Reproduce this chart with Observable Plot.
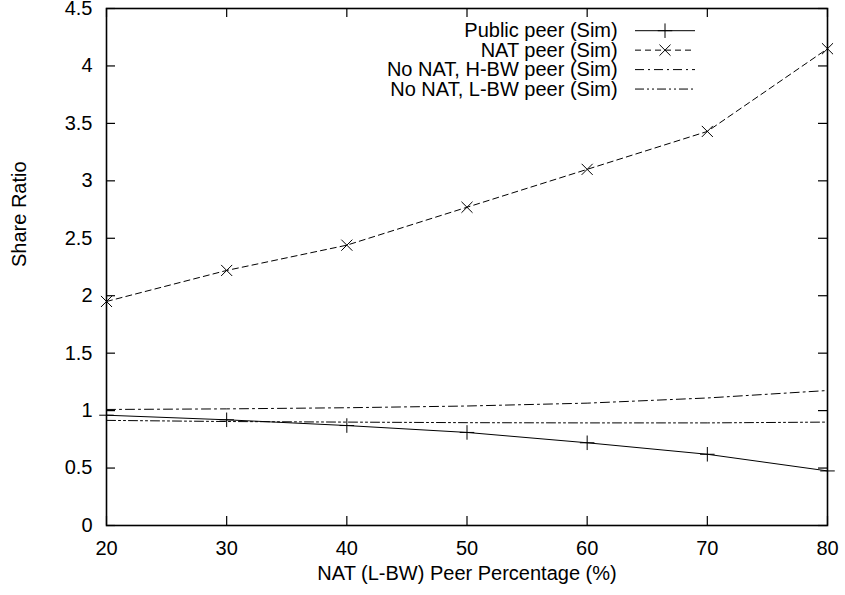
<!DOCTYPE html>
<html><head><meta charset="utf-8">
<script src="https://cdn.jsdelivr.net/npm/d3@7"></script>
<script src="https://cdn.jsdelivr.net/npm/@observablehq/plot@0.6"></script>
<style>
body{margin:0;background:#fff;}
#wrap{position:relative;width:845px;height:595px;font-family:"Liberation Sans",Arial,Helvetica,sans-serif;}
#wrap svg{position:absolute;left:0;top:0;overflow:visible;}
</style></head><body><div id="wrap"></div>
<script>
const xValues = [20, 30, 40, 50, 60, 70, 80];
const publicPeer = [0.96, 0.92, 0.87, 0.81, 0.72, 0.62, 0.475];
const natPeer = [1.95, 2.22, 2.44, 2.77, 3.10, 3.43, 4.15];
const noNatHBW = [1.01, 1.015, 1.025, 1.04, 1.065, 1.11, 1.175];
const noNatLBW = [0.915, 0.905, 0.90, 0.895, 0.893, 0.893, 0.90];
const seriesNames = ["Public peer (Sim)", "NAT peer (Sim)", "No NAT, H-BW peer (Sim)", "No NAT, L-BW peer (Sim)"];
const xTicks = [20, 30, 40, 50, 60, 70, 80];
const yTicks = [0, 0.5, 1, 1.5, 2, 2.5, 3, 3.5, 4, 4.5];
const xLabel = "NAT (L-BW) Peer Percentage (%)";
const yLabel = "Share Ratio";

const W = 845, H = 595;
const mL = 106, mR = 18, mT = 8, mB = 70;
const innerW = W - mL - mR, innerH = H - mT - mB;
const tickLen = 9;
const FS = 20;

const seriesValues = [publicPeer, natPeer, noNatHBW, noNatLBW];
const styles = [
  {dash: null, symbol: "plus", r: 4.75},
  {dash: "6,4", symbol: "times", r: 5.1},
  {dash: "9,4,2,4", symbol: null},
  {dash: "9,3,2,3,2,3", symbol: null}
];
const series = seriesValues.map((vals, s) => xValues.map((x, i) => ({x, y: vals[i], s})));

const marks = [];
series.forEach((data, s) => {
  marks.push(Plot.line(data, {x: "x", y: "y", stroke: "black", strokeWidth: 1, strokeDasharray: styles[s].dash}));
  if (styles[s].symbol) marks.push(Plot.dot(data, {x: "x", y: "y", symbol: styles[s].symbol, r: styles[s].r, stroke: "black", strokeWidth: 1, fill: "none"}));
});

const chart = Plot.plot({
  width: W, height: H,
  marginLeft: mL, marginRight: mR, marginTop: mT, marginBottom: mB,
  style: {fontFamily: '"Liberation Sans", Arial, Helvetica, sans-serif', fontSize: FS + "px", color: "black", background: "white"},
  x: {domain: [20, 80]},
  y: {domain: [0, 4.5]},
  marks: [
    Plot.axisX({ticks: xTicks, tickSize: 0, tickPadding: 15, tickFormat: d => String(d), label: null, fontSize: FS}),
    Plot.axisY({ticks: yTicks, tickSize: 0, tickPadding: 14, tickFormat: d => String(d), label: null, fontSize: FS}),
    Plot.tickX(xTicks, {x: d => d, insetTop: innerH - tickLen, stroke: "black", strokeWidth: 1.2}),
    Plot.tickX(xTicks, {x: d => d, insetBottom: innerH - tickLen, stroke: "black", strokeWidth: 1.2}),
    Plot.tickY(yTicks, {y: d => d, insetRight: innerW - tickLen, stroke: "black", strokeWidth: 1.2}),
    Plot.tickY(yTicks, {y: d => d, insetLeft: innerW - tickLen, stroke: "black", strokeWidth: 1.2}),
    ...marks,
    Plot.frame({stroke: "black", strokeWidth: 1.6}),
    Plot.text([xLabel], {frameAnchor: "bottom", dy: 54.5, fontSize: FS, fill: "black"}),
    Plot.text([yLabel], {frameAnchor: "left", dx: -86.5, rotate: -90, fontSize: FS, fill: "black"})
  ]
});
const wrap = document.getElementById("wrap");
wrap.appendChild(chart);

// Legend overlay
const leg = d3.select(wrap).append("svg").attr("width", W).attr("height", H).style("pointer-events", "none");
const textRight = 617.7, lineX0 = 635, lineX1 = 695, base0 = 37.3, rowStep = 19.45;
seriesNames.forEach((name, i) => {
  const b = base0 + i * rowStep;
  const ly = b - 6.6;
  leg.append("text").attr("x", textRight).attr("y", b).attr("text-anchor", "end")
    .attr("font-size", FS).attr("font-family", '"Liberation Sans", Arial, Helvetica, sans-serif').attr("fill", "black").text(name);
  const ln = leg.append("line").attr("x1", lineX0).attr("x2", lineX1).attr("y1", ly).attr("y2", ly)
    .attr("stroke", "black").attr("stroke-width", 1);
  if (styles[i].dash) ln.attr("stroke-dasharray", styles[i].dash);
  if (styles[i].symbol) {
    const type = styles[i].symbol === "plus" ? d3.symbolPlus : d3.symbolTimes;
    const size = Math.PI * styles[i].r * styles[i].r;
    leg.append("path").attr("d", d3.symbol(type, size)()).attr("transform", `translate(${(lineX0 + lineX1) / 2},${ly})`)
      .attr("stroke", "black").attr("fill", "none").attr("stroke-width", 1);
  }
});
</script>
</body></html>
